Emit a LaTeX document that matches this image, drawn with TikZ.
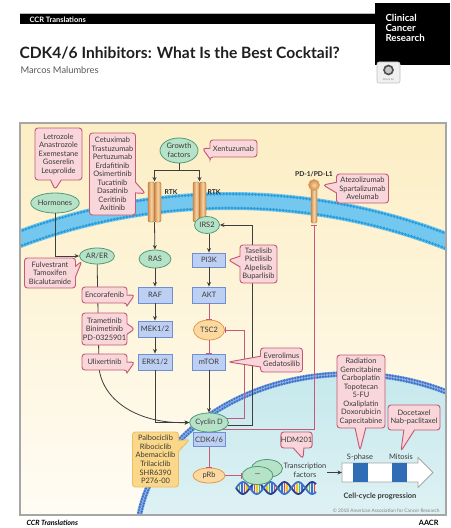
\documentclass[tikz,border=0pt]{standalone}
\usepackage{fontspec}
\setmainfont{Lato}
\usetikzlibrary{arrows.meta,calc,shapes.geometric,shapes.callouts}

\definecolor{cream}{HTML}{FCEEC4}
\definecolor{creamlow}{HTML}{FFFCF4}
\definecolor{memblue}{HTML}{74C7EE}
\definecolor{membead}{HTML}{2A9DDA}
\definecolor{nucfill}{HTML}{C6E8EC}
\definecolor{nucbead}{HTML}{3C74CC}
\definecolor{drugfill}{HTML}{F9D6DA}
\definecolor{drugline}{HTML}{C35A74}
\definecolor{palbofill}{HTML}{FBD889}
\definecolor{palboline}{HTML}{EBBE62}
\definecolor{grnfill}{HTML}{B6E2C8}
\definecolor{grnline}{HTML}{4F9C79}
\definecolor{bluefill}{HTML}{BDD0F3}
\definecolor{blueline}{HTML}{6E8FD2}
\definecolor{orgfill}{HTML}{FDD9A2}
\definecolor{orgline}{HTML}{E29A47}
\definecolor{tubelight}{HTML}{F6D3A4}
\definecolor{tubedark}{HTML}{D38E4C}
\definecolor{arrowgrey}{HTML}{3E3E3E}
\definecolor{inhpink}{HTML}{C4597A}
\definecolor{txt}{HTML}{3A3A3A}
\definecolor{dnaR}{HTML}{E5412F}
\definecolor{dnaY}{HTML}{F2C230}
\definecolor{dnaG}{HTML}{5DB54A}
\definecolor{dnaB}{HTML}{3B6FD0}
\definecolor{dnaS}{HTML}{2D3C8E}
\definecolor{sqblue}{HTML}{2F6EB7}

\newcommand{\drugsize}{\fontsize{5.6}{6.4}\selectfont}
\newcommand{\molsize}{\fontsize{5.6}{6.6}\selectfont}
\newcommand{\tagsize}{\bfseries\fontsize{5}{5.5}\selectfont}

\tikzset{every picture/.style={line width=0.75pt}}
\tikzset{
  sz/.style 2 args={minimum width=#1*0.75pt, minimum height=#2*0.75pt},
  drug/.style={rectangle callout, draw=drugline, fill=drugfill, line width=0.7pt,
    rounded corners=2.2pt, callout pointer width=8pt, inner sep=0pt,
    align=center, font=\drugsize, text=txt},
  palbo/.style={drug, draw=palboline, fill=palbofill},
  factor/.style={ellipse, draw=grnline, fill=grnfill, line width=0.6pt,
    inner sep=0pt, align=center, font=\molsize, text=txt},
  suppressor/.style={factor, draw=orgline, fill=orgfill},
  kinase/.style={rectangle, draw=blueline, fill=bluefill, line width=0.6pt,
    inner sep=0pt, font=\molsize, text=txt},
  act/.style={draw=arrowgrey, line width=0.6pt, -{Stealth[length=3.4pt,width=3pt]}},
  inh/.style={draw=inhpink, line width=0.7pt, -{Bar[width=4.5pt]}},
  tube/.style={draw=tubedark!80!black, line width=0.3pt, left color=tubedark,
    right color=tubedark, middle color=tubelight, rounded corners=1.5pt},
  lbl/.style={inner sep=0.5pt, font=\molsize, text=txt},
  tag/.style={inner sep=0.5pt, font=\tagsize, text=black!85},
}

\begin{document}
\begin{tikzpicture}[x=0.75pt,y=0.75pt,yscale=-1,xscale=1]
\useasboundingbox (0,0) rectangle (450,528);
\fill [white] (0,0) rectangle (450,528);

%Shape: Rectangle
\draw [gray!55, line width=0.4pt] (20,13) -- (375,13);
\fill [black] (20,14.5) rectangle (375,24);
\fill [black] (375,3) rectangle (450,65);
% Text Node
\draw (29,19.3) node [anchor=west, inner sep=0pt, text=white, font=\bfseries\fontsize{5.6}{6}\selectfont] (ccrtop) {CCR Translations};
% Text Node
\draw (385,28) node [anchor=west, align=left, inner sep=0pt, text=white, font=\bfseries\fontsize{7.3}{7.6}\selectfont] (journal) {Clinical\\Cancer\\Research};
% Text Node
\draw (19,59) node [anchor=base west, inner sep=0pt, text=black!88, font=\bfseries\fontsize{11.7}{13}\selectfont] (title) {CDK4/6 Inhibitors: What Is the Best Cocktail?};
% Text Node
\draw (20,70) node [anchor=west, inner sep=0pt, text=black!65, font=\fontsize{7}{8}\selectfont] (author) {Marcos Malumbres};

%Shape: Rectangle
\draw [gray!50, fill=gray!12, rounded corners=1.5pt, line width=0.4pt] (377,62) rectangle (400,83);
\draw [gray!60!black, fill=gray!45, line width=1.2pt] (388.5,70) circle [radius=4.5];
\draw (388.5,80) node [inner sep=0pt, text=gray, font=\fontsize{2}{2}\selectfont] (upd) {Check for};

% panel, cell membrane and nucleus
\begin{scope}
\clip (20,123) rectangle (446,515);
\shade [top color=cream, bottom color=creamlow] (20,123) rectangle (446,515);
\draw [memblue, line width=13.5pt] (230,801) circle [radius=600];
\draw [membead, line width=2.4pt, line cap=round, dash pattern=on 0pt off 2.4pt] (230,801) circle [radius=607];
\draw [membead, line width=2.4pt, line cap=round, dash pattern=on 0pt off 2.4pt] (230,801) circle [radius=593];
\shade [top color=nucfill, bottom color=white] (350,540) ellipse [x radius=213, y radius=166];
\draw [nucbead!55, line width=4.2pt] (350,540) ellipse [x radius=213, y radius=166];
\draw [nucbead, line width=2pt, line cap=round, dash pattern=on 0pt off 2.1pt] (350,540) ellipse [x radius=214.5, y radius=167.5];
\draw [nucbead, line width=2pt, line cap=round, dash pattern=on 0pt off 2.1pt] (350,540) ellipse [x radius=211.5, y radius=164.5];
\end{scope}
\draw [gray!70, line width=0.8pt] (20,123) rectangle (446,515);

% receptors
\coordinate (gfsplit) at (179,170);
\coordinate (rtkAtop) at (154.5,181.5);
\coordinate (rtkBtop) at (199.5,181.5);
\coordinate (rtkAbot) at (154.5,222);
\coordinate (pdhead) at (314,185);
\coordinate (pdbase) at (314,225);
\coordinate (cctail) at (342,472.5);
\draw [tube] (148,182) rectangle (154.5,222);
\draw [tube] (154.5,182) rectangle (161,222);
\draw [tube] (193,182) rectangle (199.5,222);
\draw [tube] (199.5,182) rectangle (206,222);
\draw [tube, rounded corners=1pt] (311,189) rectangle (317,223);
\draw [orgline, line width=0.4pt, inner color=tubelight, outer color=tubedark] (pdhead) circle [radius=5.5];
% Text Node
\draw (171,192) node [tag] (rtkAlbl) {RTK};
\draw (214,192) node [tag] (rtkBlbl) {RTK};
\draw (314,174) node [tag] (pdlbl) {PD-1/PD-L1};

%Shape: Ellipse
\draw (179,150.5) node [factor, sz={38}{25}, font=\fontsize{5.6}{7}\selectfont] (growth) {Growth\\factors};
\draw (55,203) node [factor, sz={37}{20}] (hormones) {Hormones};
\draw (97,256) node [factor, sz={35}{16}] (arer) {AR/ER};
\draw (155,259) node [factor, sz={32}{18}] (ras) {RAS};
\draw (155,295) node [kinase, sz={34}{16}] (raf) {RAF};
\draw (155,329) node [kinase, sz={34}{16}] (mek) {MEK1/2};
\draw (155,362) node [kinase, sz={34}{16}] (erk) {ERK1/2};
\draw (207,225) node [factor, sz={25}{17}] (irs) {IRS2};
\draw (209,260) node [kinase, sz={33}{14}] (pik) {PI3K};
\draw (209,295) node [kinase, sz={33}{16}] (akt) {AKT};
\draw (209,330) node [suppressor, sz={31}{20}] (tsc) {TSC2};
\draw (209,362) node [kinase, sz={33}{16}] (mtor) {mTOR};
\draw (209,422.5) node [factor, sz={34}{19}] (cycd) {Cyclin D};
\draw (209,439.5) node [kinase, sz={32}{14}] (cdk) {CDK4/6};
\draw (209,475.5) node [suppressor, sz={32}{15}] (prb) {pRb};

% DNA double helix
\foreach \t [count=\n] in {237,239.5,...,316} {
  \pgfmathsetmacro{\ya}{488+6*sin((\t-236)*13)}
  \pgfmathsetmacro{\yb}{488-6*sin((\t-236)*13)}
  \pgfmathsetmacro{\rung}{{"dnaR","dnaY","dnaG","dnaB"}[mod(\n,4)]}
  \draw [\rung, line width=0.9pt] (\t,\ya) -- (\t,\yb);
}
\draw [dnaS, line width=1.3pt, domain=236:316, samples=80] plot (\x,{488+6*sin((\x-236)*13)});
\draw [dnaB, line width=1.3pt, domain=236:316, samples=80] plot (\x,{488-6*sin((\x-236)*13)});

%Shape: Ellipse
\draw (267,468.5) node [factor, sz={31}{18}] (e2fb) {};
\draw (257.5,475.5) node [factor, sz={31}{18}] (e2fa) {—};

% Text Node
\draw (305,470) node [lbl, align=center] (tf) {Transcription\\factors};
\draw (360,457) node [lbl] (sphase) {S-phase};
\draw (401,457) node [lbl] (mitosis) {Mitosis};
\draw (380,496) node [lbl, font=\bfseries\molsize] (ccp) {Cell-cycle progression};
\draw (440,510.5) node [anchor=east, inner sep=0pt, text=gray, font=\fontsize{3.6}{4}\selectfont] (copyr) {\textcopyright\ 2018 American Association for Cancer Research};

% cell-cycle arrow
\draw [gray!70, fill=white, line width=0.6pt] (cctail) -- (342,463) -- (418,463) -- (418,457.5) -- (433,472.5) -- (418,487.5) -- (418,482) -- (342,482) -- cycle;
\fill [sqblue] (353,463.3) rectangle (368,481.7);
\fill [sqblue] (392,463.3) rectangle (407,481.7);

%Straight Lines
\draw [arrowgrey, line width=0.6pt] (growth) -- (gfsplit);
\draw [act] (gfsplit) -| (rtkAtop);
\draw [act] (gfsplit) -| (rtkBtop);
\draw [act] (rtkAbot) -- (ras);
\draw [act] (ras) -- (raf);
\draw [act] (raf) -- (mek);
\draw [act] (mek) -- (erk);
\draw [act] (irs.south -| pik.north) -- (pik);
\draw [act] (pik) -- (akt);
\draw [inh] (akt) -- (tsc);
\draw [inh] (tsc) -- (mtor);
\draw [act] (mtor) -- (cycd);
\draw [act] (erk) |- (cycd);
\draw [act] (hormones) |- (arer);
\draw [act] (arer) -- (99,368) .. controls (103,402) and (140,424) .. (cycd.west);
\draw [inh] (cycd.12) -| (244,330) -- (tsc);
\draw [act] (cycd.-8) -| (252,225) -- (irs);
\draw [inh] (cycd.-28) -| (pdbase);
\draw [inh] (cdk) -- (prb);
\draw [inh] (prb) -- (e2fa);
\draw [act] (tf.east |- cctail) -- (cctail);

% drug boxes
\draw (58.5,154) node [drug, sz={47}{52}, callout absolute pointer={($(hormones.north)+(0,-3)$)}] (letro) {Letrozole\\Anastrozole\\Exemestane\\Goserelin\\Leuprolide};
\draw (112.5,174) node [drug, sz={46}{82}, callout absolute pointer={($(rtkAtop)+(-9,12)$)}] (cetux) {Cetuximab\\Trastuzumab\\Pertuzumab\\Erdafitinib\\Osimertinib\\Tucatinib\\Dasatinib\\Ceritinib\\Axitinib};
\draw (233.5,148.5) node [drug, sz={47}{17}, callout absolute pointer={($(growth.east)+(4,-2)$)}] (xentu) {Xentuzumab};
\draw (362.5,188.5) node [drug, sz={52}{29}, callout absolute pointer={($(pdhead)+(9,0)$)}] (atezo) {Atezolizumab\\Spartalizumab\\Avelumab};
\draw (50,273) node [drug, sz={51}{30}, callout absolute pointer={($(arer.200)+(-1,0)$)}] (fulv) {Fulvestrant\\Tamoxifen\\Bicalutamide};
\draw (104.5,295) node [drug, sz={45}{16}, callout absolute pointer={($(raf.west)+(-3,0)$)}] (encor) {Encorafenib};
\draw (104.5,329) node [drug, sz={45}{32}, callout absolute pointer={($(mek.west)+(-3,0)$)}] (trame) {Trametinib\\Binimetinib\\PD-0325901};
\draw (104.5,362) node [drug, sz={45}{16}, callout absolute pointer={($(erk.west)+(-3,0)$)}] (ulix) {Ulixertinib};
\draw (258.5,264) node [drug, sz={37}{38}, callout absolute pointer={($(pik.east)+(2.5,0)$)}] (tase) {Taselisib\\Pictilisib\\Alpelisib\\Buparlisib};
\draw (281.5,360) node [drug, sz={42}{24}, callout absolute pointer={($(mtor.east)+(2.5,0)$)}] (evero) {Everolimus\\Gedatosilib};
\draw (155.5,459.5) node [palbo, sz={46}{55}, callout absolute pointer={($(cdk.west)+(-3,0)$)}] (palbo) {Palbociclib\\Ribociclib\\Abemaciclib\\Trilaciclib\\SHR6390\\P276-00};
\draw (296.5,440) node [drug, sz={26}{16}, callout absolute pointer={($(tf.north)+(-2,-3)$)}] (hdm) {HDM201};
\draw (361,391.5) node [drug, sz={48}{73}, callout absolute pointer={($(sphase.north)+(0,-2)$)}] (radio) {Radiation\\Gemcitabine\\Carboplatin\\Topotecan\\5-FU\\Oxaliplatin\\Doxorubicin\\Capecitabine};
\draw (414,417.5) node [drug, sz={52}{25}, callout absolute pointer={($(mitosis.north)+(0,-2)$)}] (docet) {Docetaxel\\Nab-paclitaxel};

% Text Node
\draw (26,523) node [anchor=west, inner sep=0pt, font=\bfseries\itshape\fontsize{5.4}{6}\selectfont] (ccrfoot) {CCR Translations};
\draw (439,523) node [anchor=east, inner sep=0pt, font=\bfseries\fontsize{5.5}{6}\selectfont] (aacr) {AACR};

\end{tikzpicture}
\end{document}
